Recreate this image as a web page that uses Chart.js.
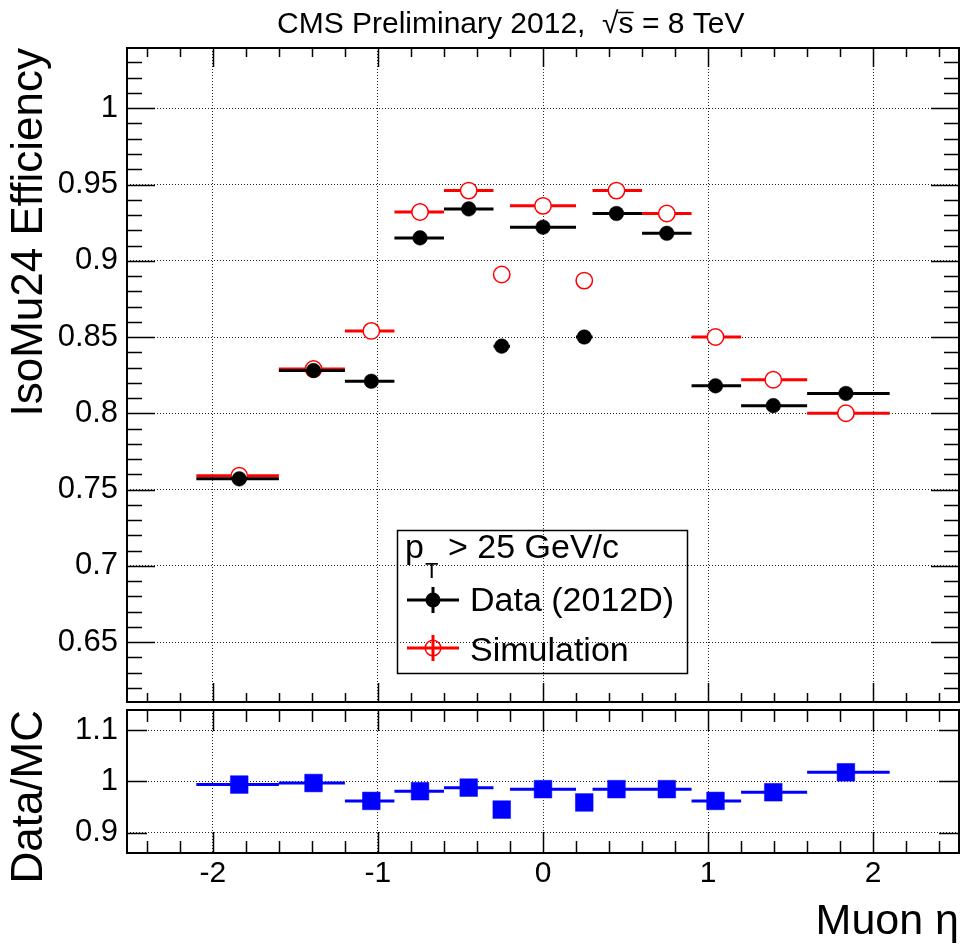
<!DOCTYPE html>
<html>
<head>
<meta charset="utf-8">
<title>IsoMu24 efficiency vs muon eta</title>
<script src="https://cdn.jsdelivr.net/npm/chart.js@4.4.1/dist/chart.umd.min.js"></script>
<style>
  html, body { margin: 0; padding: 0; background: #fff; }
  #wrap { position: relative; width: 960px; height: 949px; }
  canvas { position: absolute; left: 0; }
  #effCanvas { top: 0; }
  #ratioCanvas { top: 704px; }
</style>
</head>
<body>
<div id="wrap">
  <canvas id="effCanvas" width="960" height="704"></canvas>
  <canvas id="ratioCanvas" width="960" height="245"></canvas>
</div>
<script>
// eta binning and values
const binLow   = [-2.1, -1.6, -1.2, -0.9, -0.6, -0.3, -0.2, 0.2, 0.3, 0.6, 0.9, 1.2, 1.6];
const binHigh  = [-1.6, -1.2, -0.9, -0.6, -0.3, -0.2, 0.2, 0.3, 0.6, 0.9, 1.2, 1.6, 2.1];
const etaPoint = [-1.84, -1.39, -1.04, -0.745, -0.45, -0.25, 0.0, 0.25, 0.445, 0.75, 1.045, 1.395, 1.835];
const effData  = [0.757, 0.828, 0.821, 0.915, 0.934, 0.844, 0.922, 0.850, 0.931, 0.918, 0.818, 0.805, 0.813];
const effSim   = [0.759, 0.829, 0.854, 0.932, 0.946, 0.891, 0.936, 0.887, 0.946, 0.931, 0.850, 0.822, 0.800];
const ratio    = [0.994, 0.997, 0.962, 0.981, 0.988, 0.945, 0.985, 0.959, 0.985, 0.985, 0.962, 0.979, 1.018];

const FONT = '"Liberation Sans", Arial, Helvetica, sans-serif';
Chart.defaults.font.family = FONT;
Chart.defaults.color = '#000';

// horizontal bin-width bars, broken between bins with a null point
function binBars(vals) {
    const pts = [];
    vals.forEach((v, i) => {
        pts.push({ x: binLow[i], y: v }, { x: binHigh[i], y: v }, { x: binHigh[i], y: null });
    });
    return pts;
}
function points(vals) {
    return vals.map((v, i) => ({ x: etaPoint[i], y: v }));
}
const fmt = v => String(Number(v.toFixed(3)));

// keep the plot frame where I put it, labels may overflow
function fixedSize(w, h) {
    return s => {
        if (w !== null) s.width = w;
        if (h !== null) s.height = h;
        s.paddingTop = s.paddingBottom = s.paddingLeft = s.paddingRight = 0;
    };
}

// ROOT style frame with inward ticks
const frameTicks = {
    id: 'frameTicks',
    afterDraw(chart, args, o) {
        const { ctx, chartArea: a, scales: { x, y } } = chart;
        ctx.save();
        ctx.strokeStyle = '#000';
        ctx.lineWidth = 1.5;
        ctx.beginPath();
        for (let k = Math.ceil(x.min / o.xMinor); k * o.xMinor <= x.max; k++) {
            const v = k * o.xMinor;
            const major = Math.abs(v / o.xMajor - Math.round(v / o.xMajor)) < 1e-6;
            const px = Math.round(x.getPixelForValue(v)) + 0.5;
            const len = major ? o.xLen[0] : o.xLen[1];
            ctx.moveTo(px, a.top); ctx.lineTo(px, a.top + len);
            ctx.moveTo(px, a.bottom); ctx.lineTo(px, a.bottom - len);
        }
        for (let k = Math.ceil(y.min / o.yMinor - 1e-6); k * o.yMinor <= y.max; k++) {
            const v = k * o.yMinor;
            const major = Math.abs(v / o.yMajor - Math.round(v / o.yMajor)) < 1e-6;
            const py = Math.round(y.getPixelForValue(v)) + 0.5;
            const len = major ? o.yLen[0] : o.yLen[1];
            ctx.moveTo(a.left, py); ctx.lineTo(a.left + len, py);
            ctx.moveTo(a.right, py); ctx.lineTo(a.right - len, py);
        }
        ctx.stroke();
        ctx.lineWidth = 2;
        ctx.strokeRect(a.left, a.top, a.right - a.left, a.bottom - a.top);
        ctx.restore();
    }
};

// title and legend box of the upper pad
const topExtras = {
    id: 'topExtras',
    afterDraw(chart) {
        const ctx = chart.ctx;
        ctx.save();
        ctx.fillStyle = '#000';
        ctx.textBaseline = 'alphabetic';
        ctx.textAlign = 'left';
        ctx.font = '30px ' + FONT;
        const head = 'CMS Preliminary 2012,  \u221A';
        ctx.fillText(head + 's = 8 TeV', 277, 33);
        const sx = 277 + ctx.measureText(head).width;
        const sw = ctx.measureText('s').width;
        ctx.lineWidth = 1.5;
        ctx.beginPath();
        ctx.moveTo(sx - 1, 12.5); ctx.lineTo(sx + sw, 12.5);
        ctx.stroke();

        // legend
        ctx.lineWidth = 1.5;
        ctx.strokeRect(397.5, 530.5, 290, 143);
        ctx.font = '34px ' + FONT;
        ctx.fillText('p', 405, 558);
        ctx.font = '22px ' + FONT;
        ctx.fillText('T', 425, 578);
        ctx.font = '34px ' + FONT;
        ctx.fillText('> 25 GeV/c', 448, 558);
        ctx.fillText('Data (2012D)', 470, 611);
        ctx.fillText('Simulation', 470, 661);

        const entry = (yc, color, filled) => {
            ctx.strokeStyle = color;
            ctx.lineWidth = 3;
            ctx.beginPath();
            ctx.moveTo(407, yc); ctx.lineTo(459, yc);
            ctx.moveTo(433, yc - 13); ctx.lineTo(433, yc + 13);
            ctx.stroke();
            ctx.beginPath();
            ctx.arc(433, yc, filled ? 7.5 : 7.8, 0, Math.PI * 2);
            if (filled) { ctx.fillStyle = color; ctx.fill(); }
            else { ctx.lineWidth = 1.5; ctx.stroke(); }
        };
        entry(600, '#000', true);
        entry(648, '#ff0000', false);
        ctx.restore();
    }
};

const gridStyle = { color: 'rgba(0,0,0,0.85)', lineWidth: 1, drawTicks: false };
const borderStyle = { display: false, dash: [1, 2] };

new Chart(document.getElementById('effCanvas'), {
    type: 'scatter',
    data: {
        datasets: [
            { label: 'Data bars', data: binBars(effData), showLine: true, spanGaps: false,
              borderColor: '#000', borderWidth: 3, pointRadius: 0, order: 2 },
            { label: 'Data (2012D)', data: points(effData), pointRadius: 7.3, pointBorderWidth: 0.5,
              backgroundColor: '#000', borderColor: '#000', order: 1 },
            { label: 'Simulation bars', data: binBars(effSim), showLine: true, spanGaps: false,
              borderColor: '#ff0000', borderWidth: 3, pointRadius: 0, order: 4 },
            { label: 'Simulation', data: points(effSim), pointRadius: 8.2, pointBorderWidth: 1.5,
              backgroundColor: '#fff', borderColor: '#ff0000', order: 3 }
        ]
    },
    options: {
        responsive: false,
        animation: false,
        events: [],
        layout: { autoPadding: false, padding: { left: 0, right: 1, top: 48, bottom: 2 } },
        plugins: {
            legend: { display: false },
            tooltip: { enabled: false },
            frameTicks: { xMinor: 0.2, xMajor: 1, xLen: [19, 9], yMinor: 0.01, yMajor: 0.05, yLen: [28, 15] }
        },
        scales: {
            x: {
                type: 'linear', min: -2.52, max: 2.52,
                ticks: { display: false, stepSize: 1, includeBounds: false },
                grid: gridStyle, border: borderStyle,
                afterFit: fixedSize(null, 0)
            },
            y: {
                type: 'linear', min: 0.6107, max: 1.0395,
                ticks: { stepSize: 0.05, includeBounds: false, padding: 9, font: { size: 31 }, callback: fmt },
                grid: gridStyle, border: borderStyle,
                title: { display: true, text: 'IsoMu24 Efficiency', align: 'end', font: { size: 44 },
                         padding: { top: 3, bottom: 0 } },
                afterFit: fixedSize(127, null)
            }
        }
    },
    plugins: [frameTicks, topExtras]
});

new Chart(document.getElementById('ratioCanvas'), {
    type: 'scatter',
    data: {
        datasets: [
            { label: 'Ratio bars', data: binBars(ratio), showLine: true, spanGaps: false,
              borderColor: '#0000ff', borderWidth: 3, pointRadius: 0, order: 2 },
            { label: 'Data/MC', data: points(ratio), pointStyle: 'rect', pointRadius: 12.5,
              pointBorderWidth: 0.5, backgroundColor: '#0000ff', borderColor: '#0000ff', order: 1 }
        ]
    },
    options: {
        responsive: false,
        animation: false,
        events: [],
        layout: { autoPadding: false, padding: { left: 0, right: 1, top: 6, bottom: 0 } },
        plugins: {
            legend: { display: false },
            tooltip: { enabled: false },
            frameTicks: { xMinor: 0.2, xMajor: 1, xLen: [21, 12], yMinor: 0.1, yMajor: 0.1, yLen: [20, 20] }
        },
        scales: {
            x: {
                type: 'linear', min: -2.52, max: 2.52,
                ticks: { stepSize: 1, includeBounds: false, padding: 3, maxRotation: 0,
                         font: { size: 30 }, callback: fmt },
                grid: gridStyle, border: borderStyle,
                title: { display: true, text: 'Muon \u03B7', align: 'end', font: { size: 43 },
                         padding: { top: 0, bottom: 1 } },
                afterFit: fixedSize(null, 96)
            },
            y: {
                type: 'linear', min: 0.86, max: 1.14,
                ticks: { stepSize: 0.1, includeBounds: false, padding: 9, font: { size: 31 }, callback: fmt },
                grid: gridStyle, border: borderStyle,
                title: { display: true, text: 'Data/MC', align: 'end', font: { size: 44 },
                         padding: { top: 3, bottom: 0 } },
                afterFit: fixedSize(127, null)
            }
        }
    },
    plugins: [frameTicks]
});
</script>
</body>
</html>
